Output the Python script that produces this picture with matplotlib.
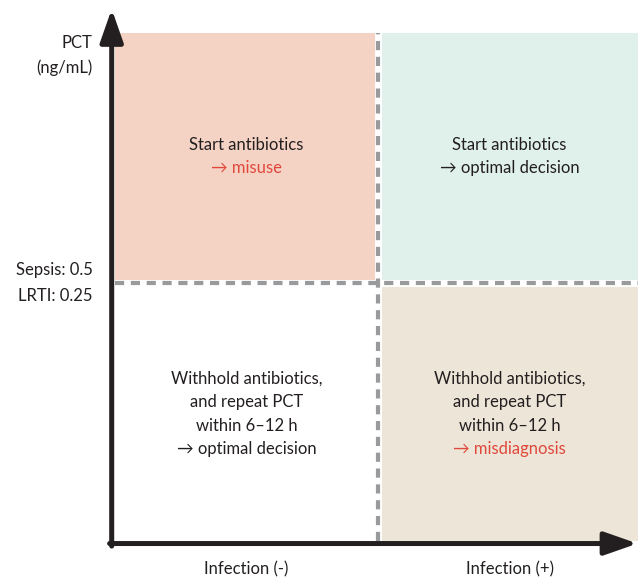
import matplotlib
matplotlib.use("Agg")
import matplotlib.pyplot as plt

# ---- data ----
x_categories = ["Infection (-)", "Infection (+)"]
y_levels = ["low", "high"]
y_title = ["PCT", "(ng/mL)"]
threshold_label = ["Sepsis: 0.5", "LRTI: 0.25"]
quad_colors = {("high", 0): "#F5D3C4", ("high", 1): "#E0F0EA",
               ("low", 0): "#FFFFFF", ("low", 1): "#EDE5D7"}
quad_main = {("high", 0): ["Start antibiotics"],
             ("high", 1): ["Start antibiotics"],
             ("low", 0): ["Withhold antibiotics,", "and repeat PCT", "within 6\u201312 h"],
             ("low", 1): ["Withhold antibiotics,", "and repeat PCT", "within 6\u201312 h"]}
quad_outcome = {("high", 0): "misuse", ("high", 1): "optimal decision",
                ("low", 0): "optimal decision", ("low", 1): "misdiagnosis"}
outcome_red = {("high", 0): True, ("high", 1): False,
               ("low", 0): False, ("low", 1): True}

plt.rcParams['font.family'] = ['Lato', 'DejaVu Sans']
FS = 12
DARK = "#231F20"
RED = "#E0483C"
GRAY = "#999A9C"

fig = plt.figure(figsize=(6.38, 5.77), dpi=100)
ax = fig.add_axes([0.180, 0.0624, 0.82, 0.8806])
YMIN, YMAX = -0.532, 1.5
ax.set_xlim(-0.5, 1.488)
ax.set_ylim(YMIN, YMAX)
ax.axis("off")

for (lvl, xi), col in quad_colors.items():
    if lvl == "high":
        bottom, height = 0.5, YMAX - 0.5
    else:
        bottom, height = YMIN, 0.5 - YMIN
    ax.bar(xi, height, width=1.0, bottom=bottom, color=col, linewidth=0, zorder=1)

# white gaps + dashed separators
ax.axhline(0.5, color="white", lw=5, zorder=2)
ax.axvline(0.5, color="white", lw=5, zorder=2)
ax.axhline(0.5, color=GRAY, lw=3, linestyle=(0, (2.2, 1.6)), zorder=3)
ax.axvline(0.5, color=GRAY, lw=3, linestyle=(0, (2.2, 1.6)), zorder=3)

# texts in quadrants
LH = 0.094
for (lvl, xi), lines in quad_main.items():
    ytop = 1.052 if lvl == "high" else 0.116
    for k, line in enumerate(lines):
        ax.text(xi, ytop - k * LH, line, ha="center", va="center",
                fontsize=FS, color=DARK, zorder=4)
    yo = ytop - len(lines) * LH
    color = RED if outcome_red[(lvl, xi)] else DARK
    ax.text(xi, yo, "\u2192 " + quad_outcome[(lvl, xi)], ha="center",
            va="center", fontsize=FS, color=color, zorder=4)

# axes arrows
style = "-|>,head_length=1.0,head_width=0.35"
ax.annotate("", xy=(-0.006, 1.047), xytext=(-0.006, -0.01),
            xycoords="axes fraction", textcoords="axes fraction",
            arrowprops=dict(arrowstyle=style, color=DARK, lw=3.6, mutation_scale=20,
                            shrinkA=0, shrinkB=0), annotation_clip=False, zorder=5)
ax.annotate("", xy=(0.999, -0.005), xytext=(-0.01, -0.005),
            xycoords="axes fraction", textcoords="axes fraction",
            arrowprops=dict(arrowstyle=style, color=DARK, lw=3.6, mutation_scale=20,
                            shrinkA=0, shrinkB=0), annotation_clip=False, zorder=5)

# axis labels
for xi, lab in enumerate(x_categories):
    ax.text(xi, -0.644, lab, ha="center", va="center", fontsize=FS, color=DARK)
ax.text(-0.584, 1.46, y_title[0], ha="right", va="center", fontsize=FS, color=DARK)
ax.text(-0.584, 1.36, y_title[1], ha="right", va="center", fontsize=FS, color=DARK)
ax.text(-0.584, 0.552, threshold_label[0], ha="right", va="center", fontsize=FS, color=DARK)
ax.text(-0.584, 0.448, threshold_label[1], ha="right", va="center", fontsize=FS, color=DARK)

fig.savefig("out.png", dpi=100)
